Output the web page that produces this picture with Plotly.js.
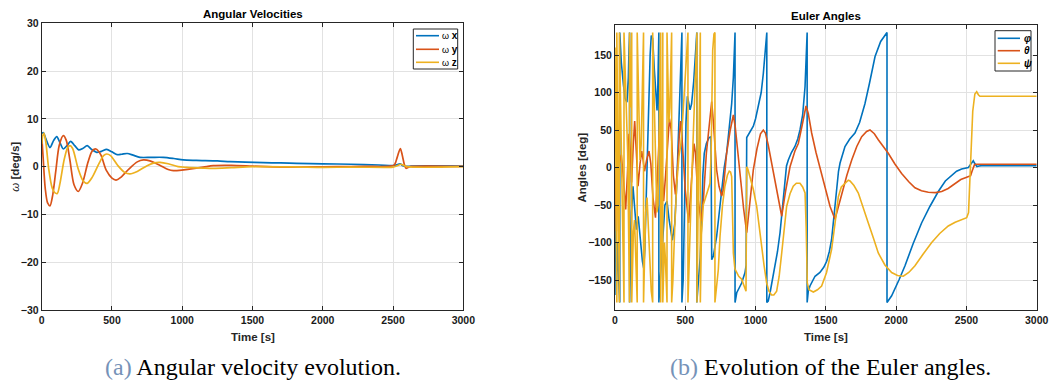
<!DOCTYPE html>
<html><head><meta charset="utf-8">
<script src="https://cdn.plot.ly/plotly-3.0.1.min.js"></script>
<style>html,body{margin:0;padding:0;background:#fff;}#chart{width:1049px;height:387px;}</style>
</head><body><div id="chart"></div>
<script>
// ---------- data ----------
const timeTicks = [0, 500, 1000, 1500, 2000, 2500, 3000];
const omegaTicks = [-30, -20, -10, 0, 10, 20, 30];
const angleTicks = [-150, -100, -50, 0, 50, 100, 150];
const omegaLabels = ['x', 'y', 'z'];
const angleLabels = ['φ', 'θ', 'ψ'];

// angular velocity [deg/s] vs time [s] as [t, value]
const omegaX = [[0,6.9],[12,7.1],[30,5.8],[59,4.0],[85,5.5],[107,6.3],[130,5.0],[154,3.7],[180,4.4],[206,5.3],[235,4.4],[263,3.5],[292,3.8],[324,4.4],[355,3.6],[391,3.0],[425,3.2],[462,3.6],[500,3.1],[538,2.5],[570,2.6],[609,2.75],[650,2.4],[699,1.95],[780,1.95],[865,1.95],[940,1.7],[1007,1.4],[1100,1.3],[1250,1.2],[1340,1.05],[1450,0.95],[1577,0.84],[1700,0.78],[1814,0.7],[2000,0.6],[2200,0.5],[2400,0.35],[2500,0.2],[2530,0.4],[2550,0.6],[2570,0.2],[2600,0.05],[2630,0.12],[3000,0.12]];
const omegaY = [[0,6.5],[10,2],[25,-4.5],[42,-7.6],[59,-8.2],[78,-6],[100,-1],[125,4.5],[154,6.5],[175,5.5],[200,1.5],[230,-3.8],[260,-5.2],[290,-3.5],[330,1.0],[360,3.3],[386,3.7],[420,2.5],[460,-0.8],[500,-2.4],[529,-2.8],[560,-2.3],[620,-0.5],[680,1.0],[723,1.4],[770,1.2],[840,0.3],[900,-0.6],[937,-0.84],[980,-0.8],[1050,-0.5],[1150,-0.1],[1221,0.2],[1350,0.25],[1500,0.1],[1700,-0.1],[1900,-0.05],[2100,0.0],[2300,0.05],[2480,0.1],[2510,0.4],[2530,2.0],[2552,3.8],[2565,2.5],[2580,0.5],[2592,-0.35],[2610,-0.1],[2630,0.05],[3000,0.05]];
const omegaZ = [[0,4.7],[8,6.5],[16,7.0],[30,5.0],[50,-0.5],[75,-4.5],[95,-5.5],[111,-5.6],[130,-3.5],[160,1.5],[185,4.0],[201,4.4],[220,3.8],[260,-0.5],[295,-3.0],[324,-3.5],[360,-2.2],[410,0.8],[440,2.3],[462,2.65],[490,2.3],[540,0.3],[590,-1.2],[628,-1.5],[680,-1.0],[750,0.2],[800,0.8],[842,0.9],[900,0.6],[970,0.0],[1031,-0.15],[1150,-0.3],[1221,-0.35],[1350,-0.2],[1500,0.0],[1800,-0.05],[2000,-0.15],[2200,-0.1],[2450,-0.15],[2500,-0.1],[2530,0.2],[2555,0.5],[2575,0.3],[2600,0.0],[3000,0.0]];

// Euler angles [deg] vs time [s] as [t, value]
const anglePhi = [[0,0],[4,-120],[8,-170],[12,-140],[18,-100],[26,-150],[34,-180],[34,180],[45,140],[60,110],[72,92],[85,87],[95,120],[100,160],[104,180],[104,-180],[110,-120],[118,-60],[128,-25],[140,-50],[152,-83],[165,-65],[180,-100],[195,-125],[204,-134],[212,-110],[225,-20],[240,90],[250,150],[258,176],[268,172],[280,130],[290,95],[299,76],[305,110],[310,170],[312,180],[312,-180],[325,-140],[340,-80],[355,-50],[370,-45],[385,-70],[408,-97],[425,-75],[440,-20],[455,60],[468,140],[476,180],[476,-180],[485,-150],[495,-50],[505,60],[515,95],[525,82],[534,77],[545,85],[560,115],[572,150],[582,180],[582,-180],[595,-150],[606,-120],[617,-70],[625,-10],[635,19],[650,32],[670,40],[683,41],[688,-123],[700,-118],[723,-92],[740,-60],[759,-25],[777,0],[794,19],[812,50],[830,85],[842,120],[850,160],[854,180],[854,-180],[866,-167],[885,-160],[901,-154],[925,-140],[933,-130],[937,40],[948,44],[965,50],[984,55],[1000,65],[1020,81],[1040,100],[1055,125],[1068,155],[1080,180],[1080,-180],[1090,-178],[1103,-167],[1120,-150],[1138,-131],[1156,-112],[1174,-87],[1190,-55],[1209,-16],[1220,2],[1233,10],[1255,20],[1280,28],[1300,38],[1316,50],[1335,70],[1352,108],[1360,140],[1367,180],[1367,-180],[1375,-165],[1387,-158],[1399,-154],[1423,-145],[1458,-140],[1485,-133],[1506,-125],[1525,-112],[1541,-96],[1560,-60],[1577,-25],[1590,-5],[1601,6],[1620,20],[1636,28],[1670,38],[1707,46],[1740,60],[1778,85],[1810,112],[1850,148],[1890,168],[1935,180],[1935,-180],[1968,-171],[2020,-150],[2063,-131],[2120,-102],[2181,-74],[2240,-52],[2300,-32],[2350,-18],[2395,-10],[2430,-5],[2466,-2],[2500,-1],[2514,0],[2537,6],[2549,9],[2557,6],[2566,3],[2575,1.3],[2590,2],[2608,2.5],[3000,2.5]];
const angleTheta = [[0,0],[6,-40],[10,-85],[16,-30],[22,18],[30,5],[45,17],[60,-15],[76,-56],[88,-10],[100,45],[110,20],[118,-20],[130,30],[140,62],[152,20],[164,-25],[178,5],[190,22],[200,10],[210,-5],[225,10],[242,22],[255,5],[270,-40],[288,-67],[300,-20],[310,30],[318,55],[330,10],[346,-45],[360,-10],[375,40],[387,65],[400,50],[415,-10],[430,-36],[445,0],[458,45],[467,62],[480,30],[500,-30],[524,-74],[540,-30],[555,20],[562,32],[572,20],[590,-40],[612,-72],[630,-40],[650,19],[670,60],[688,88],[700,60],[712,20],[723,-3],[740,-25],[759,-38],[770,-30],[794,19],[820,50],[842,70],[855,55],[870,25],[889,-12],[915,-55],[937,-87],[960,-45],[984,-3],[1010,25],[1035,45],[1055,50],[1070,46],[1090,30],[1114,6],[1150,-30],[1186,-65],[1215,-30],[1245,1],[1280,22],[1304,32],[1330,55],[1359,82],[1375,72],[1399,46],[1430,20],[1470,-8],[1500,-30],[1530,-52],[1565,-69],[1590,-52],[1613,-34],[1650,-10],[1684,10],[1720,28],[1755,41],[1790,48],[1814,50],[1845,45],[1873,37],[1910,28],[1944,19],[1990,5],[2039,-8],[2090,-19],[2134,-27],[2180,-31],[2229,-33],[2280,-33.5],[2324,-32],[2370,-28],[2419,-21],[2460,-16],[2502,-13],[2530,-11],[2540,-5],[2549,1.3],[2558,4],[2566,4.4],[3000,4.4]];
const anglePsi = [[0,160],[3,110],[6,20],[9,-90],[12,-160],[13,-180],[13,180],[17,90],[21,-20],[25,-110],[29,-165],[31,-180],[31,180],[35,140],[40,90],[47,40],[53,-20],[58,-90],[62,-150],[64,-180],[64,180],[68,150],[75,100],[83,70],[90,20],[96,-70],[100,-140],[103,-180],[103,180],[107,120],[111,80],[115,120],[119,180],[119,-180],[124,-130],[131,-85],[139,-70],[146,-110],[152,-150],[158,-180],[158,180],[163,130],[170,60],[178,10],[186,30],[194,100],[200,160],[203,180],[203,-180],[210,-110],[218,-60],[228,-40],[238,-80],[248,-130],[258,-165],[268,-180],[268,180],[275,120],[283,40],[291,-30],[298,-60],[306,-50],[314,30],[320,120],[325,180],[325,-180],[330,-100],[334,-20],[338,100],[340,180],[340,-180],[346,-140],[352,-100],[358,-120],[364,-160],[370,-180],[370,180],[376,120],[383,60],[390,80],[397,140],[403,180],[403,-180],[412,-150],[425,-80],[440,-20],[455,15],[468,30],[480,60],[495,110],[508,150],[519,180],[519,-180],[530,-100],[545,-20],[560,60],[572,130],[583,180],[583,-180],[590,-60],[597,60],[603,150],[607,180],[607,-180],[615,-90],[628,-50],[652,-34],[676,-21],[684,20],[688,63],[695,156],[704,178],[711,180],[711,-180],[720,-165],[735,-136],[747,-92],[765,-50],[782,-25],[800,-10],[813,-5],[822,-6],[830,-12],[836,-50],[842,-114],[853,-135],[865,-140],[880,-145],[901,-149],[920,-158],[932,-165],[934,-100],[937,1],[945,-2],[960,-12],[985,-30],[1008,-52],[1025,-80],[1043,-105],[1060,-130],[1079,-154],[1095,-165],[1114,-170],[1130,-170],[1150,-165],[1168,-145],[1186,-114],[1205,-80],[1221,-52],[1245,-35],[1268,-25],[1290,-21],[1316,-21],[1335,-26],[1352,-34],[1360,-80],[1368,-154],[1380,-163],[1399,-165],[1411,-166],[1440,-163],[1470,-158],[1505,-140],[1541,-109],[1565,-75],[1589,-39],[1610,-26],[1636,-21],[1660,-17],[1672,-18],[1700,-24],[1731,-34],[1765,-52],[1802,-74],[1840,-95],[1873,-114],[1920,-130],[1968,-140],[2010,-144],[2051,-145],[2090,-140],[2134,-131],[2190,-116],[2253,-100],[2310,-88],[2371,-78],[2420,-73],[2466,-70],[2502,-67],[2515,-60],[2525,-20],[2535,30],[2545,75],[2560,98],[2573,101],[2585,97],[2596,95],[3000,95]];

// ---------- style ----------
const W = 1049, H = 387;
const colors = ['#0072BD', '#D95319', '#EDB120'];
const px = x => x / W;
const py = y => 1 - y / H;
const sans = 'Liberation Sans, Arial, Helvetica, sans-serif';
const serif = 'Liberation Serif, Times New Roman, serif';
const dark = '#262626';

function series(points, i, xa, ya, smooth) {
  return {
    x: points.map(p => p[0]), y: points.map(p => p[1]),
    type: 'scatter', mode: 'lines', xaxis: xa, yaxis: ya, showlegend: false, hoverinfo: 'skip',
    line: smooth ? {color: colors[i], width: 1.7, shape: 'spline', smoothing: 0.8} : {color: colors[i], width: 1.6}
  };
}

const traces = [
  series(omegaX, 0, 'x', 'y', true),
  series(omegaY, 1, 'x', 'y', true),
  series(omegaZ, 2, 'x', 'y', true),
  series(anglePhi, 0, 'x2', 'y2', false),
  series(angleTheta, 1, 'x2', 'y2', false),
  series(anglePsi, 2, 'x2', 'y2', false)
];

const axisBase = {
  showline: true, linecolor: dark, linewidth: 1, mirror: 'ticks',
  ticks: 'inside', ticklen: 4, tickcolor: dark, tickwidth: 1,
  showgrid: true, gridcolor: '#e2e2e2', gridwidth: 1, zeroline: false,
  tickfont: {family: sans, size: 10.5, color: '#1a1a1a', weight: 'bold'},
  fixedrange: true
};

function ann(text, x, y, opts) {
  return Object.assign({
    text: text, x: px(x), y: py(y), xref: 'paper', yref: 'paper', showarrow: false,
    xanchor: 'center', yanchor: 'middle',
    font: {family: sans, size: 11.5, color: '#000', weight: 'bold'}
  }, opts || {});
}

const annotations = [
  ann('Angular Velocities', 252.5, 14),
  ann('Euler Angles', 826, 16),
  ann('Time [s]', 252.5, 337, {font: {family: sans, size: 11.5, color: dark, weight: 'bold'}}),
  ann('Time [s]', 826, 337, {font: {family: sans, size: 11.5, color: dark, weight: 'bold'}}),
  ann('<span style="font-weight:normal"><i>ω</i></span> [deg/s]', 15, 166.7, {textangle: -90, font: {family: sans, size: 11.5, color: dark, weight: 'bold'}}),
  ann('Angles [deg]', 582, 167.5, {textangle: -90, font: {family: sans, size: 11.5, color: dark, weight: 'bold'}}),
  ann('<span style="color:#7592b8">(a)</span> Angular velocity evolution.', 253, 366.5, {font: {family: serif, size: 24, color: '#000'}}),
  ann('<span style="color:#7592b8">(b)</span> Evolution of the Euler angles.', 830, 366.5, {font: {family: serif, size: 24, color: '#000'}})
];

const shapes = [];
const legL = {x0: 413.3, x1: 457.7, y0: 29, y1: 69, lx0: 416, lx1: 439, tx: 440, rows: [35.7, 49.3, 62.3]};
const legR = {x0: 995, x1: 1031, y0: 30.7, y1: 71, lx0: 997.7, lx1: 1020, tx: 1021.5, rows: [38.3, 50.7, 63.3]};
[legL, legR].forEach((L, k) => {
  shapes.push({type: 'rect', xref: 'paper', yref: 'paper', x0: px(L.x0), x1: px(L.x1), y0: py(L.y1), y1: py(L.y0),
    line: {color: dark, width: 1}, fillcolor: '#ffffff', layer: 'above'});
  L.rows.forEach((r, i) => {
    shapes.push({type: 'line', xref: 'paper', yref: 'paper', x0: px(L.lx0), x1: px(L.lx1), y0: py(r), y1: py(r),
      line: {color: colors[i], width: 1.6}, layer: 'above'});
    const label = k === 0
      ? '<span style="font-weight:normal;font-size:9px">ω</span> ' + omegaLabels[i]
      : '<i>' + angleLabels[i] + '</i>';
    annotations.push(ann(label, L.tx, r, {xanchor: 'left', font: {family: sans, size: 10, color: '#000', weight: 'bold'}}));
  });
});

const layout = {
  width: W, height: H,
  margin: {l: 0, r: 0, t: 0, b: 0, pad: 0},
  paper_bgcolor: '#ffffff', plot_bgcolor: '#ffffff',
  showlegend: false,
  xaxis: Object.assign({}, axisBase, {domain: [px(41.7), px(463.3)], range: [0, 3000], tickvals: timeTicks, anchor: 'y'}),
  yaxis: Object.assign({}, axisBase, {domain: [py(310), py(23.3)], range: [-30, 30], tickvals: omegaTicks, anchor: 'x'}),
  xaxis2: Object.assign({}, axisBase, {domain: [px(615), px(1036.7)], range: [0, 3000], tickvals: timeTicks, anchor: 'y2'}),
  yaxis2: Object.assign({}, axisBase, {domain: [py(310), py(25)], range: [-190, 190], tickvals: angleTicks, anchor: 'x2'}),
  annotations: annotations,
  shapes: shapes
};

Plotly.newPlot('chart', traces, layout, {displayModeBar: false, staticPlot: true});
</script>
</body></html>
